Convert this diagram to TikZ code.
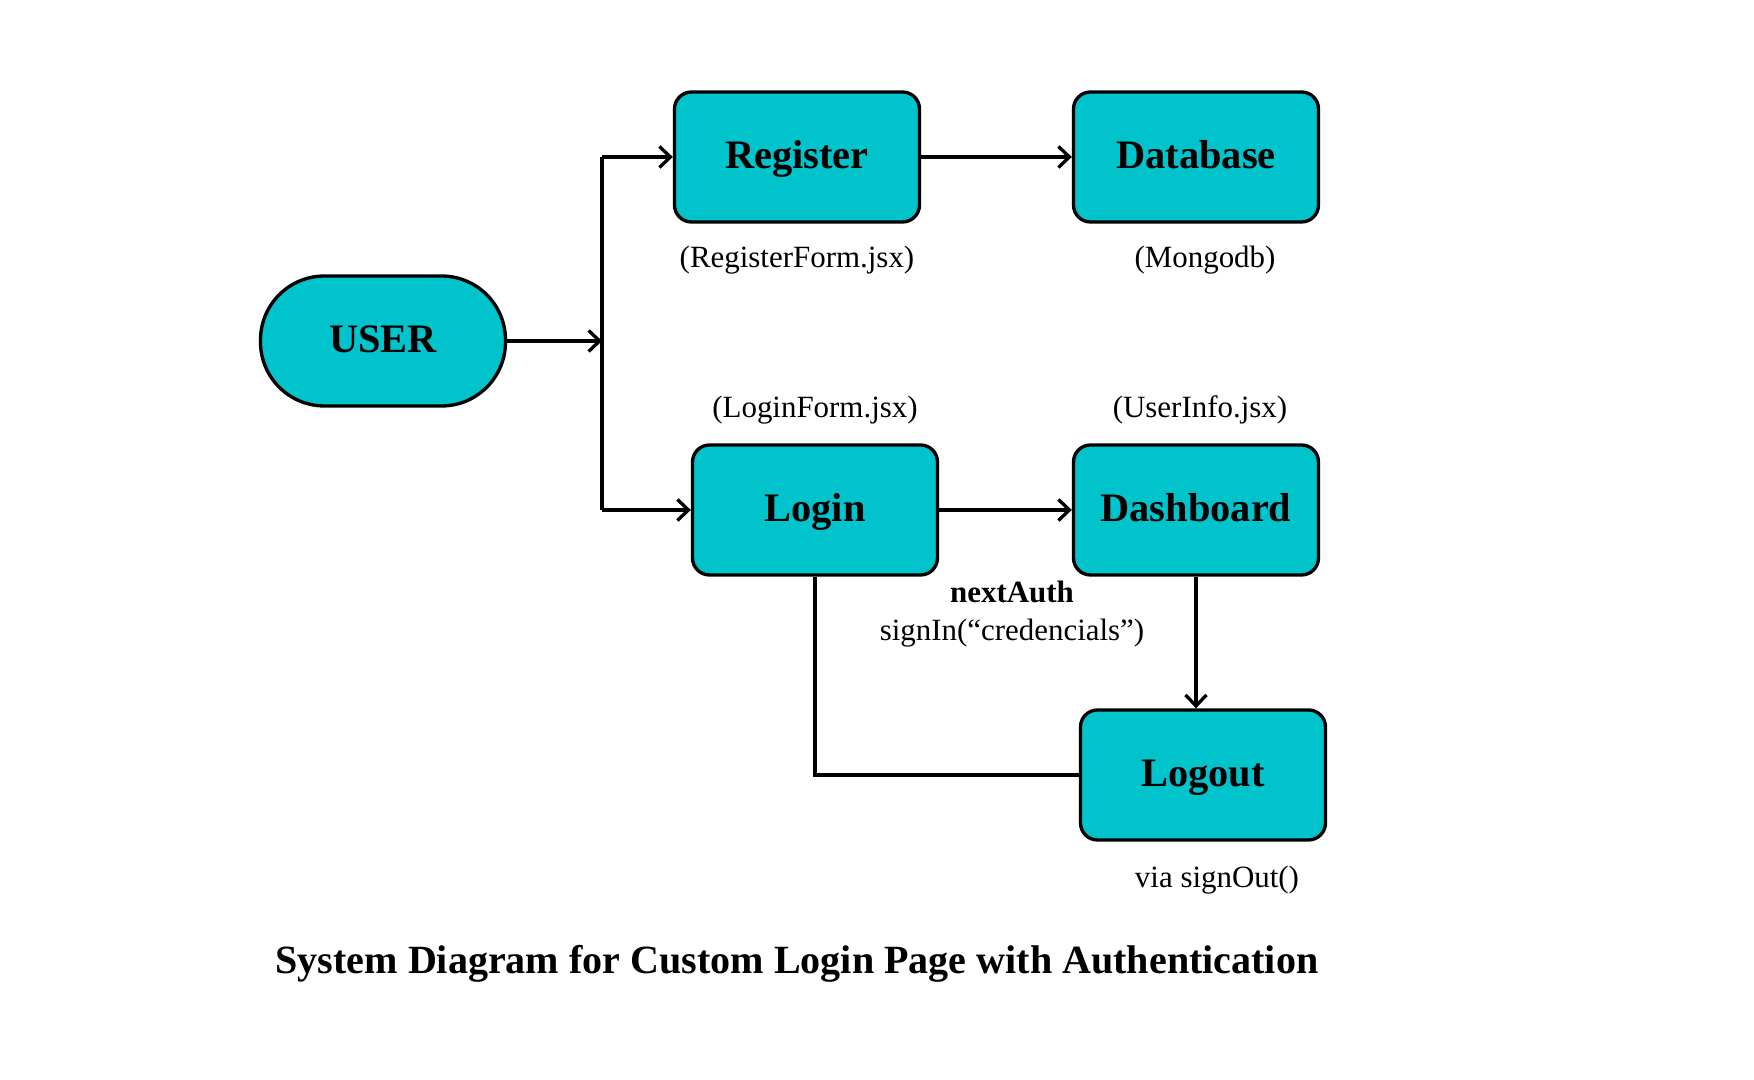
\documentclass[tikz,border=0pt]{standalone}
\usepackage{fontspec}
\setmainfont{Liberation Serif}
\usetikzlibrary{arrows.meta}
\definecolor{boxcyan}{HTML}{00C3CB}

\begin{document}
\begin{tikzpicture}[
  box/.style={draw, line width=0.95pt, fill=boxcyan, rounded corners=0.17cm, minimum width=2.45cm, minimum height=1.30cm, text height=0.66em, text depth=0pt, font=\fontsize{11.5}{14}\selectfont\bfseries},
  userbox/.style={box, rounded corners=0.64cm},
  note/.style={font=\fontsize{8.8}{11}\selectfont},
  conn/.style={line width=0.95pt},
  arr/.style={conn, -{Straight Barb[length=1.1mm, width=2.1mm, line width=0.95pt]}}
]
\useasboundingbox (0,0) rectangle (17.54,10.80);
% boxes
\node[userbox] (user) at (3.83,7.39) {USER};
\node[box] (reg) at (7.97,9.23) {Register};
\node[box] (db) at (11.96,9.23) {Database};
\node[box] (login) at (8.15,5.70) {Login};
\node[box] (dash) at (11.96,5.70) {Dashboard};
\node[box] (logout) at (12.03,3.05) {Logout};
% labels
\node[note] (regnote) at (7.97,8.20) {(RegisterForm.jsx)};
\node[note] (dbnote) at (12.05,8.20) {(Mongodb)};
\node[note] (loginnote) at (8.15,6.70) {(LoginForm.jsx)};
\node[note] (dashnote) at (12.00,6.70) {(UserInfo.jsx)};
\node[note, font=\fontsize{8.8}{11}\selectfont\bfseries] (auth) at (10.12,4.88) {nextAuth};
\node[note] (signin) at (10.12,4.47) {signIn(“credencials”)};
\node[note] (signout) at (12.17,2.00) {via signOut()};
\node[font=\fontsize{11.4}{14}\selectfont\bfseries] (title) at (7.97,1.16) {System Diagram for Custom Login Page with Authentication};
% connectors
\coordinate (fork) at (6.02,7.39);
\coordinate (forktop) at (fork|-reg);
\coordinate (forkbot) at (fork|-login);
\draw[arr] (user) -- (fork);
\draw[conn] (forktop) -- (forkbot);
\draw[arr] (forktop) -- (reg);
\draw[arr] (forkbot) -- (login);
\draw[arr] (reg) -- (db);
\draw[arr] (login) -- (dash);
\draw[arr] (dash.south) -- (dash.south|-logout.north);
\draw[conn] (login.south) |- (logout.west);
\end{tikzpicture}
\end{document}
